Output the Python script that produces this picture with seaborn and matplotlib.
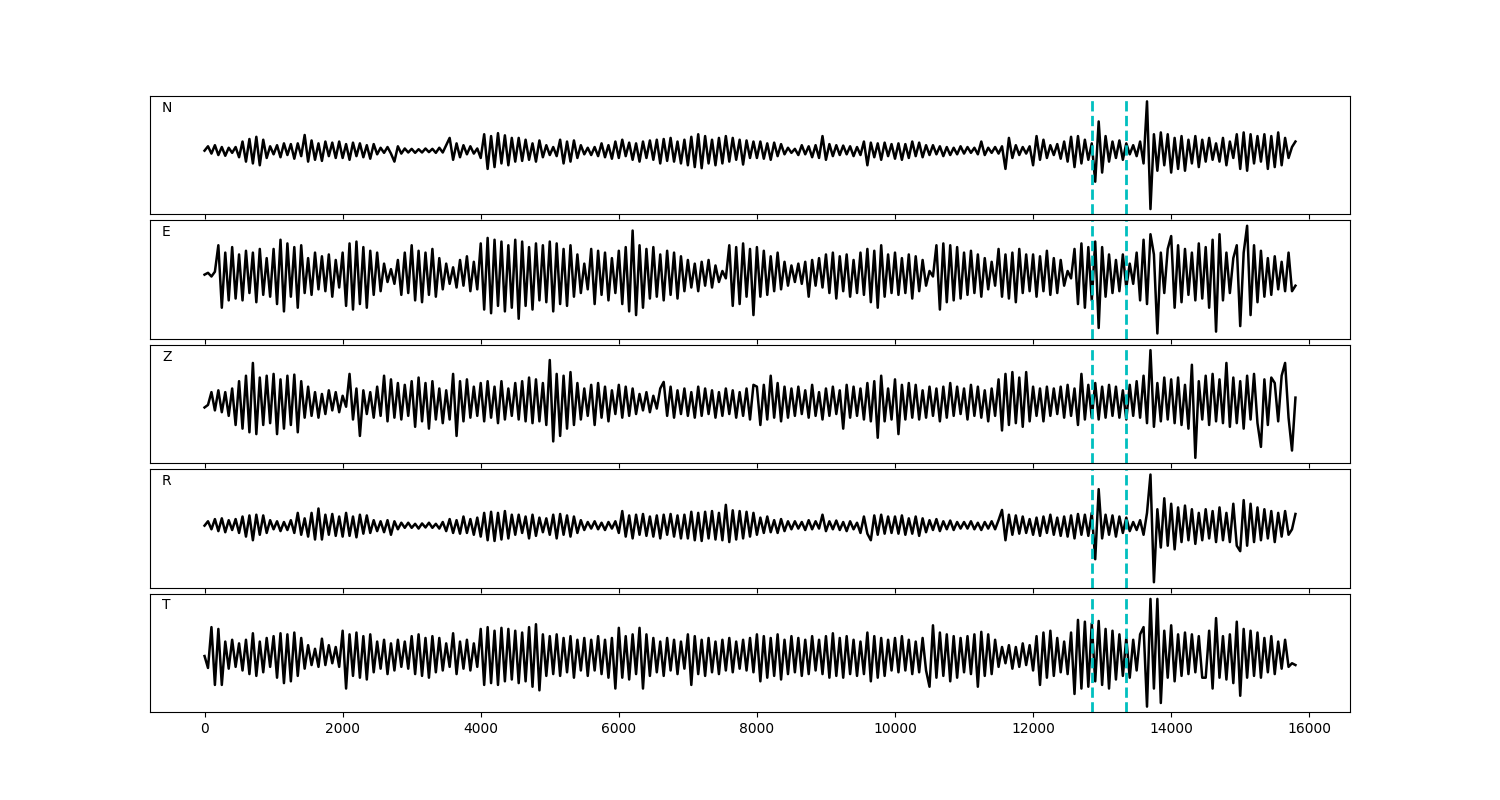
import numpy as np
import matplotlib
matplotlib.use("Agg")
import matplotlib.pyplot as plt
import seaborn as sns

dt = 50

# picks (dashed lines)
picks = [12860, 13350]

channels = ["N", "E", "Z", "R", "T"]

trace_n = [
    0, 12, -8, 15, -12, 10, -14, 8, -6, 10,
    -18, 25, -30, 32, -35, 38, -40, 30, -20, 12,
    -10, 15, -18, 20, -12, 18, -22, 20, -15, 43,
    -30, 28, -25, 20, -28, 25, -15, 22, -20, 25,
    -20, 18, -25, 22, -15, 20, -18, 15, -22, 18,
    -10, 8, -6, 10, -8, -30, 12, -8, 6, -5,
    5, -6, 4, -5, 6, -4, 5, -6, 8, -5,
    15, 35, -25, 20, -18, 15, -10, 12, -8, 6,
    -20, 45, -50, 40, -45, 48, -35, 42, -40, 35,
    -30, 35, -28, 30, -25, 20, -30, 28, -18, 15,
    -12, 10, -15, 30, -35, 25, -30, 28, -20, 15,
    -10, 8, -12, 10, -15, 20, -18, 15, -22, 25,
    -20, 30, -15, 22, -25, 20, -30, 25, -20, 28,
    -25, 30, -35, 32, -28, 35, -30, 25, -35, 30,
    -40, 38, -45, 45, -48, 40, -35, 30, -40, 35,
    -35, 40, -30, 35, -25, 30, -38, 28, -20, 25,
    -20, 25, -22, 20, -25, 22, -15, 18, -10, 8,
    -6, 5, -12, 15, -10, 12, -18, 15, -20, 40,
    -25, 18, -15, 15, -12, 14, -10, 12, -15, 10,
    -12, 25, -40, 22, -18, 20, -25, 22, -15, 18,
    -22, 20, -25, 18, -20, 25, -15, 22, -18, 15,
    -12, 15, -10, 12, -15, 10, -12, 8, -10, 12,
    -8, 10, -6, 8, -10, 25, -12, 8, -6, 10,
    -8, 12, -50, 35, -20, 15, -12, 10, -8, 12,
    -40, 40, -25, 30, -20, 15, -12, 18, -22, 25,
    -30, 38, -45, 40, -35, 30, -25, 20, -85, 80,
    -60, 40, -30, 25, -20, 28, -25, 20, -10, 15,
    -15, 25, -35, 135, -160, 45, -55, 50, -40, 45,
    -60, 35, -50, 40, -55, 30, -35, 40, -45, 30,
    -30, 35, -25, 20, -30, 35, -40, 25, -20, 45,
    -50, 50, -55, 45, -35, 40, -30, 45, -50, 40,
    -45, 50, -40, 35, -20, 10, 25,
]

trace_e = [
    0, 5, -5, 8, 80, -90, 60, -70, 75, -65,
    55, -70, 65, -50, 60, -75, 70, -55, 45, -60,
    70, -80, 95, -100, 85, -60, 75, -90, 80, -50,
    45, -55, 60, -40, 50, -45, 55, -60, 40, -35,
    60, -85, 85, -95, 90, -80, 75, -90, 65, -55,
    60, -45, 30, -20, 15, -25, 40, -55, 60, -50,
    80, -70, 65, -75, 60, -55, 70, -60, 45, -40,
    30, -25, 20, -35, 40, -30, 50, -45, 35, -40,
    85, -95, 100, -105, 95, -85, 90, -100, 80, -90,
    95, -120, 90, -85, 75, -95, 85, -70, 80, -75,
    90, -100, 85, -80, 70, -85, 80, -60, 55, -50,
    30, -40, 70, -80, 65, -55, 60, -70, 45, -50,
    65, -80, 75, -100, 120, -110, 80, -90, 70, -65,
    75, -60, 55, -70, 65, -55, 60, -65, 50, -45,
    40, -35, 30, -45, 35, -30, 40, -35, 25, -20,
    10, -10, 80, -85, 75, -80, 85, -60, 70, -110,
    75, -60, 65, -55, 50, -45, 60, -40, 35, -30,
    25, -20, 30, -25, 35, -60, 40, -30, 45, -35,
    55, -50, 60, -65, 50, -45, 55, -60, 40, -50,
    60, -55, 70, -75, 65, -90, 80, -60, 55, -50,
    60, -55, 45, -50, 55, -65, 50, -45, 40, -30,
    10, -5, 80, -95, 85, -75, 80, -70, 75, -65,
    60, -55, 65, -50, 55, -60, 45, -40, 35, -30,
    70, -60, 55, -65, 60, -75, 70, -50, 55, -45,
    55, -60, 50, -45, 65, -55, 45, -50, 40, -30,
    10, -10, 70, -80, 85, -90, 75, -70, 90, -145,
    75, -60, 55, -50, 40, -45, 55, -35, 30, -25,
    60, -70, 95, -80, 110, 55, -160, 60, -50, 70,
    105, -90, 80, -75, 70, -55, 60, -70, 85, -65,
    75, -90, 95, -155, 110, -70, 60, -50, 45, 80,
    -140, 60, 133, -110, 80, -75, 65, -60, 45, -55,
    50, -40, 35, -45, 60, -45, -30,
]

trace_z = [
    -12, -5, 30, -20, 35, -25, 30, -35, 40, -60,
    60, -70, 75, -80, 110, -85, 70, -60, 75, -55,
    80, -85, 65, -70, 75, -60, 78, -80, 60, -40,
    45, -35, 30, -40, 25, -30, 35, -20, 30, -25,
    20, -10, 80, -45, 40, -90, 35, -30, 30, -40,
    45, -35, 75, -50, 65, -40, 55, -45, 50, -35,
    60, -65, 70, -50, 55, -70, 60, -45, 40, -55,
    35, -45, 80, -90, 60, -50, 65, -40, 45, -35,
    55, -50, 60, -40, 45, -55, 60, -45, 40, -35,
    55, -45, 60, -50, 70, -55, 65, -50, 55, -60,
    118, -105, 80, -90, 75, -70, 85, -60, 55, -45,
    40, -35, 50, -60, 55, -40, 45, -50, 35, -30,
    50, -40, 45, -35, 40, -30, 25, -20, 30, -25,
    20, -15, 40, 58, -35, 45, -40, 35, -30, 40,
    -35, 30, -40, 45, -35, 40, -30, 35, -40, 30,
    -35, 40, -30, 35, -40, 30, -35, 40, -45, 50,
    45, -60, 50, -45, 75, -40, 55, -50, 45, -40,
    40, -35, 45, -30, 35, -40, 50, -35, 30, -45,
    40, -35, 45, -30, 35, -70, 50, -40, 45, -35,
    40, -45, 55, -50, 60, -95, 75, -50, 40, -45,
    65, -85, 50, -45, 55, -40, 50, -45, 35, -40,
    45, -35, 40, -50, 45, -40, 55, -35, 45, -30,
    40, -45, 50, -35, 45, -40, 35, -50, 40, -35,
    65, -75, 80, -60, 85, -55, 70, -65, 85, -50,
    45, -35, 40, -50, 45, -35, 40, -30, 45, -40,
    50, -35, 40, -60, 80, -45, 50, -40, 55, -45,
    45, -40, 50, -35, 45, -40, 35, -45, 50, -35,
    60, -40, 75, -55, 145, -65, 55, -50, 70, -45,
    65, -55, 70, -60, 50, -70, 105, -150, 60, -45,
    75, -60, 80, -50, 65, -55, 110, -65, 70, -55,
    60, -70, 75, -45, 80, -55, -120, 65, -60, 70,
    55, -50, 75, 110, -40, -130, 15,
]

trace_r = [
    0, 12, -10, 18, -15, 20, -18, 15, -12, 18,
    -20, 25, -30, 28, -40, 30, -25, 28, -20, 15,
    -10, 12, -15, 10, -12, 15, -20, 35, -25, 20,
    -30, 35, -38, 47, -38, 30, -25, 32, -28, 25,
    -30, 35, -28, 25, -32, 30, -22, 28, -20, 15,
    -15, 12, -18, 15, -25, 12, -10, 8, -6, 8,
    -6, 5, -8, 6, -5, 8, -6, 5, -8, 10,
    -15, 18, -20, 15, -22, 25, -20, 18, -25, 22,
    -30, 35, -40, 38, -42, 35, -38, 40, -35, 30,
    -25, 30, -20, 25, -35, 30, -28, 22, -18, 20,
    -25, 30, -35, 32, -25, 28, -30, 25, -20, 15,
    -12, 10, -8, 12, -10, 8, -12, 10, -8, 12,
    -20, 40, -30, 28, -35, 30, -25, 32, -28, 25,
    -30, 28, -35, 30, -25, 32, -30, 28, -35, 30,
    -35, 38, -40, 35, -42, 38, -35, 40, -38, 35,
    -40, 57, -45, 42, -38, 40, -35, 38, -30, 35,
    -25, 22, -20, 25, -18, 15, -20, 18, -15, 12,
    -10, 12, -8, 10, -12, 15, -10, 12, -8, 30,
    -15, 12, -10, 14, -12, 10, -15, 12, -10, 8,
    -20, 25, -22, -40, 28, -25, 30, -22, 25, -20,
    25, -22, 28, -25, 20, -22, 25, -28, 20, -18,
    15, -12, 18, -15, 12, -10, 14, -12, 10, -8,
    10, -8, 12, -10, 8, -12, 10, -8, 12, -10,
    15, 43, -40, 30, -25, 28, -22, 25, -20, 18,
    -25, 22, -28, 25, -20, 30, -25, 22, -28, 25,
    -30, 28, -35, 32, -25, 30, -28, 35, -92, 100,
    -35, 30, -25, 28, -30, 25, -20, 22, -15, 10,
    -12, 15, -25, 35, 140, -155, 45, -60, 75, -55,
    60, -65, 50, -45, 55, -40, 45, -50, 35, -40,
    45, -35, 40, -45, 50, -40, 35, -45, 60, -55,
    -70, 70, -55, 60, -45, 50, -40, 45, -35, 40,
    -45, 35, -30, 40, -25, -10, 32,
]

trace_t = [
    0, -33, 80, -80, 75, -80, 40, -35, 45, -30,
    35, -40, 45, -50, 63, -55, 40, -45, 50, -30,
    55, -60, 63, -75, 60, -70, 65, -55, 50, -35,
    30, -25, 20, -30, 48, -25, 30, -20, 25, -30,
    70, -90, 60, -55, 65, -60, 55, -65, 60, -45,
    40, -35, 45, -50, 35, -40, 45, -30, 40, -35,
    55, -50, 60, -55, 50, -60, 55, -45, 50, -40,
    35, -30, 63, -50, 40, -35, 45, -40, 35, -30,
    75, -80, 80, -75, 70, -80, 78, -70, 75, -65,
    70, -75, 65, -70, 80, -85, 88, -95, 60, -55,
    55, -50, 60, -55, 50, -45, 55, -60, 45, -40,
    50, -55, 45, -40, 55, -50, 45, -60, 50, -90,
    78, -60, 55, -65, 60, -50, 78, -90, 60, -55,
    50, -45, 40, -55, 50, -40, 45, -50, 40, -35,
    60, -80, 55, -50, 45, -55, 50, -45, 40, -50,
    45, -40, 50, -45, 40, -35, 45, -40, 50, -45,
    60, -70, 55, -60, 50, -55, 60, -65, 45, -50,
    55, -45, 50, -55, 45, -50, 55, -40, 45, -50,
    55, -60, 63, -55, 50, -60, 55, -50, 45, -55,
    40, -50, 65, -70, 55, -60, 50, -55, 45, -40,
    50, -45, 55, -40, 45, -50, 40, -45, 50, -40,
    -85, 85, -60, 65, -55, 60, -70, 55, -60, 50,
    -45, 55, -50, 60, -85, 67, -55, 60, -50, 45,
    -30, 25, -20, 30, -35, 25, -30, 35, -25, 30,
    -40, 55, -80, 65, -60, 70, -55, 50, -45, 40,
    -50, 65, -105, 100, -90, 95, -85, 90, -70, 97,
    -80, 75, -90, 70, -65, 60, -55, 50, -60, 45,
    -40, 60, 80, -140, 158, -90, 158, -130, 70, -60,
    85, -70, 60, -55, 65, -50, 60, -45, 55, -60,
    -60, 70, -90, 105, -60, 55, -65, 60, -75, 95,
    -110, 75, -60, 70, -55, 65, -60, 50, -45, 55,
    -50, 40, -35, 45, -30, -20, -25,
]

traces = [trace_n, trace_e, trace_z, trace_r, trace_t]

fig, axes = plt.subplots(5, 1, figsize=(15, 8), sharex=True)
fig.subplots_adjust(left=0.1, right=0.9, top=0.88, bottom=0.11, hspace=0.05)

for ax, name, tr in zip(axes, channels, traces):
    x = np.arange(len(tr)) * dt
    sns.lineplot(x=x, y=tr, ax=ax, color="k", linewidth=1.8)
    for p in picks:
        ax.axvline(p, color="c", linestyle="--", linewidth=2)
    ax.text(0.01, 0.9, name, transform=ax.transAxes, va="center", fontsize=10)
    ax.set_yticks([])
    ax.set_ylabel("")

plt.savefig("out.png", dpi=100)
